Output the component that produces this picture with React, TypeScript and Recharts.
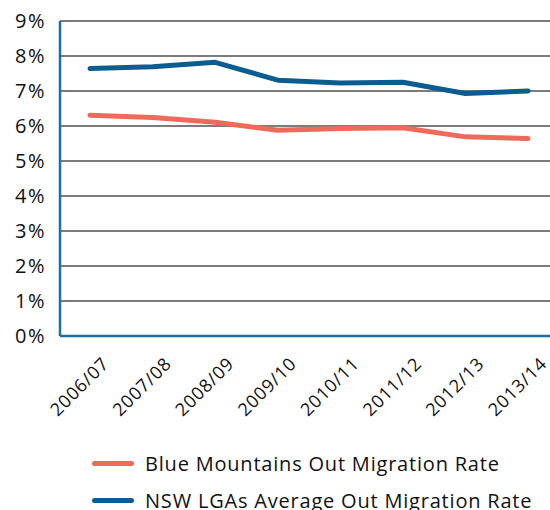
import { LineChart, Line, XAxis, YAxis, CartesianGrid } from "recharts";

const years = ["2006/07", "2007/08", "2008/09", "2009/10", "2010/11", "2011/12", "2012/13", "2013/14"];
const blueMountains = [6.31, 6.24, 6.11, 5.88, 5.93, 5.95, 5.69, 5.64];
const nswAverage = [7.64, 7.69, 7.82, 7.31, 7.23, 7.25, 6.93, 7.0];
const yTicks = [0, 1, 2, 3, 4, 5, 6, 7, 8, 9];

const SERIES = [
  { key: "bm", name: "Blue Mountains Out Migration Rate", color: "#f0695a" },
  { key: "nsw", name: "NSW LGAs Average Out Migration Rate", color: "#0b5d91" },
];

const AXIS_BLUE = "#1c6ea4";
const FONT = "'Open Sans', 'Noto Sans', sans-serif";

const data = years.map((y, i) => ({ year: y, bm: blueMountains[i], nsw: nswAverage[i] }));

function YearTick({ x, y, payload }: any) {
  const ax = x + 20;
  const ay = y + 21;
  return (
    <text
      x={ax}
      y={ay}
      textAnchor="end"
      transform={`rotate(-45, ${ax}, ${ay})`}
      fill="#111"
      fontSize={18}
      letterSpacing={0.8}
      fontWeight={500}
      fontFamily={FONT}
    >
      {payload.value}
    </text>
  );
}

export default function App() {
  return (
    <div style={{ position: "absolute", left: 0, top: 0, width: 550, height: 510, overflow: "hidden", fontFamily: FONT }}>
      <LineChart width={550} height={510} data={data} margin={{ top: 21, right: 0, left: 0, bottom: 0 }}>
        <CartesianGrid horizontal vertical={false} stroke="#505050" strokeWidth={1.3} />
        <XAxis
          dataKey="year"
          interval={0}
          height={174}
          padding={{ left: 30, right: 22 }}
          tick={<YearTick />}
          tickLine={false}
          axisLine={{ stroke: AXIS_BLUE, strokeWidth: 2.5 }}
        />
        <YAxis
          domain={[0, 9]}
          ticks={yTicks}
          width={60}
          tickSize={0}
          tickMargin={14}
          tickLine={false}
          tickFormatter={(v) => `${v}%`}
          tick={{ fill: "#111", fontSize: 20, fontWeight: 500, letterSpacing: 1.5, fontFamily: FONT }}
          axisLine={{ stroke: AXIS_BLUE, strokeWidth: 2.5 }}
        />
        {SERIES.map((s) => (
          <Line
            key={s.key}
            type="linear"
            dataKey={s.key}
            name={s.name}
            stroke={s.color}
            strokeWidth={5}
            strokeLinecap="round"
            strokeLinejoin="round"
            dot={false}
            isAnimationActive={false}
          />
        ))}
      </LineChart>

      {/* legend */}
      {SERIES.map((s, i) => (
        <div
          key={s.key}
          style={{ position: "absolute", left: 92, top: 463 + i * 37 - 14, height: 28, display: "flex", alignItems: "center" }}
        >
          <span style={{ display: "inline-block", width: 42, height: 5, borderRadius: 3, background: s.color }} />
          <span style={{ marginLeft: 11, fontSize: 20, fontWeight: 500, letterSpacing: 0.8, color: "#111", whiteSpace: "nowrap" }}>
            {s.name}
          </span>
        </div>
      ))}
    </div>
  );
}
